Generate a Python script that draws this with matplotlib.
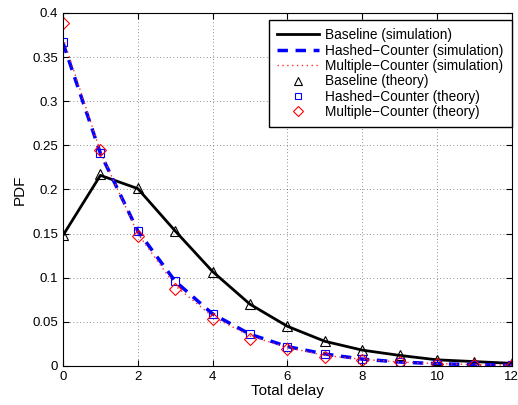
import matplotlib.pyplot as plt

plt.rcParams['font.family'] = ['Liberation Sans', 'DejaVu Sans']

delay = [0, 1, 2, 3, 4, 5, 6, 7, 8, 9, 10, 11, 12]

# simulation curves
base_sim = [0.148, 0.216, 0.201, 0.153, 0.107, 0.070, 0.045, 0.028, 0.018, 0.012, 0.007, 0.005, 0.003]
hashed_sim = [0.366, 0.241, 0.153, 0.096, 0.059, 0.036, 0.022, 0.0136, 0.0078, 0.0045, 0.0026, 0.0015, 0.0009]
multi_sim = [0.372, 0.243, 0.150, 0.091, 0.056, 0.034, 0.021, 0.012, 0.0075, 0.0045, 0.0027, 0.0016, 0.001]

# theory points
base_th = [0.148, 0.217, 0.202, 0.153, 0.107, 0.070, 0.045, 0.028, 0.018, 0.012, 0.007, 0.005, 0.003]
hashed_th = [0.367, 0.241, 0.153, 0.096, 0.059, 0.036, 0.022, 0.0136, 0.0076, 0.004, 0.002, 0.0012, 0.0007]
multi_th = [0.389, 0.245, 0.147, 0.087, 0.053, 0.031, 0.019, 0.0106, 0.0068, 0.004, 0.002, 0.001, 0.0006]

fig = plt.figure(figsize=(5.18, 4.05), dpi=100)
ax = fig.add_axes([0.1216, 0.0963, 0.8664, 0.8717])

ax.plot(delay, base_sim, c='black', lw=2, label='Baseline (simulation)')
ax.plot(delay, hashed_sim, c='blue', lw=2.5, ls=(0, (3, 2.2)), label='Hashed\u2212Counter (simulation)')
ax.plot(delay, multi_sim, c='#ff3030', lw=1, ls=(0, (1, 2.5)), label='Multiple\u2212Counter (simulation)')
ax.plot(delay, base_th, 'k^', mfc='none', ms=7, mew=0.8, ls='none', label='Baseline (theory)')
ax.plot(delay, hashed_th, 's', c='blue', mfc='none', ms=6, mew=0.8, ls='none', label='Hashed\u2212Counter (theory)')
ax.plot(delay, multi_th, 'D', c='red', mfc='none', ms=6, mew=0.8, ls='none', label='Multiple\u2212Counter (theory)')

ax.set_xlim(0, 12)
ax.set_ylim(0, 0.4)
ax.set_xticks(range(0, 13, 2))
ax.set_yticks([0, 0.05, 0.1, 0.15, 0.2, 0.25, 0.3, 0.35, 0.4])
ax.set_yticklabels(['0', '0.05', '0.1', '0.15', '0.2', '0.25', '0.3', '0.35', '0.4'])
ax.grid(True, ls=(0, (1, 3)), c='black', lw=0.6, alpha=0.6)
ax.tick_params(direction='in', labelsize=9.5, top=True, right=True, length=4)
ax.set_xlabel('Total delay', fontsize=11, labelpad=1)
ax.set_ylabel('PDF', fontsize=11)

leg = ax.legend(loc='upper right', bbox_to_anchor=(1.0, 0.98), borderaxespad=0,
                fontsize=9.8, fancybox=False, framealpha=1, edgecolor='black',
                handlelength=3.1, handletextpad=0.45, labelspacing=0.1,
                borderpad=0.6, markerscale=0.8)
leg.get_frame().set_linewidth(1)

plt.savefig('out.png', dpi=100)
